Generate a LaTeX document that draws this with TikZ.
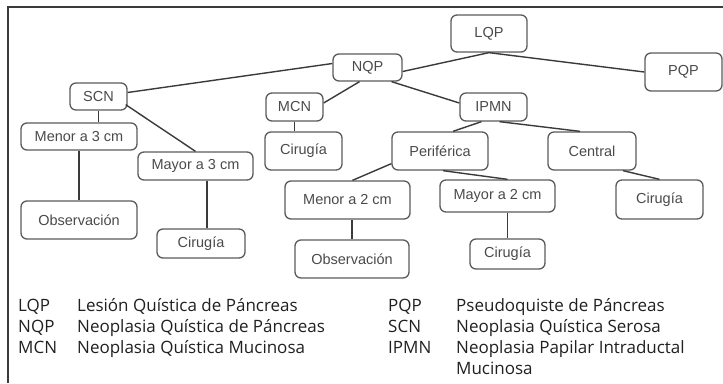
\documentclass[tikz,border=0pt]{standalone}
\usepackage{fontspec}
\setmainfont{Open Sans}
\newfontfamily\nodefont{Liberation Sans}
\usetikzlibrary{calc}
\definecolor{edgec}{HTML}{3A3A3A}
\definecolor{boxc}{HTML}{5A5A5A}
\definecolor{txtc}{HTML}{4A4A4A}
\definecolor{legc}{HTML}{202020}
\tikzset{
  box/.style={draw=boxc, line width=1.3pt, rounded corners=6pt, inner sep=0pt,
    text=txtc, font=\nodefont\fontsize{14.5}{16}\selectfont},
  link/.style={draw=edgec, line width=1.4pt},
  legabbr/.style={anchor=base west, inner sep=0pt, text=legc, font=\fontsize{17}{21}\selectfont},
  legdesc/.style={anchor=base west, inner sep=0pt, text=legc, font=\fontsize{17}{21}\selectfont}
}
\begin{document}
\begin{tikzpicture}[x=1pt,y=-1pt]
\useasboundingbox (0,0) rectangle (723,383);
\draw[draw=edgec, line width=1.2pt] (8,383) -- (8,7) -- (723,7);
% nodes
\node[box, minimum width=76pt, minimum height=37pt] (LQP) at (489,33.5) {LQP};
\node[box, minimum width=69pt, minimum height=27pt] (NQP) at (367.5,67.5) {NQP};
\node[box, minimum width=77pt, minimum height=38pt] (PQP) at (683.5,72) {PQP};
\node[box, minimum width=57pt, minimum height=27pt] (SCN) at (98.5,96.5) {SCN};
\node[box, minimum width=57pt, minimum height=28pt] (MCN) at (294.5,107) {MCN};
\node[box, minimum width=67pt, minimum height=28pt] (IPMN) at (493.5,107) {IPMN};
\node[box, minimum width=116pt, minimum height=27pt] (Men3) at (79,136.5) {Menor a 3 cm};
\node[box, minimum width=77pt, minimum height=38pt] (CirA) at (303.5,151) {Cirugía};
\node[box, minimum width=96pt, minimum height=38pt] (Perif) at (440,151) {Periférica};
\node[box, minimum width=88pt, minimum height=38pt] (Central) at (592,151) {Central};
\node[box, minimum width=115pt, minimum height=28pt] (May3) at (195.5,166) {Mayor a 3 cm};
\node[box, minimum width=125pt, minimum height=38pt] (Men2) at (347.5,200) {Menor a 2 cm};
\node[box, minimum width=115pt, minimum height=32pt] (May2) at (497.5,196) {Mayor a 2 cm};
\node[box, minimum width=87pt, minimum height=39pt] (CirC) at (659.5,199.5) {Cirugía};
\node[box, minimum width=116pt, minimum height=38pt] (ObsL) at (79,220) {Observación};
\node[box, minimum width=88pt, minimum height=29pt] (CirB) at (201,243.5) {Cirugía};
\node[box, minimum width=114pt, minimum height=38pt] (ObsR) at (352,259) {Observación};
\node[box, minimum width=75pt, minimum height=30pt] (CirD) at (507.5,254) {Cirugía};
% connectors
\draw[link] (LQP.south) -- ($(NQP.east)+(0,4)$);
\draw[link] (LQP.south) -- (PQP.west);
\draw[link] ($(NQP.west)+(0,-4)$) -- ($(SCN.east)+(0,-4)$);
\draw[link] ($(NQP.south)+(-8,0)$) -- ($(MCN.east)+(0,-4)$);
\draw[link] ($(NQP.south)+(24,0)$) -- ($(IPMN.west)+(0,-4)$);
\draw[link] (SCN.south) -- (SCN.south |- Men3.north);
\draw[link] ($(SCN.south east)+(-2,-6)$) -- (May3.north);
\draw[link] (MCN.south) -- (MCN.south |- CirA.north);
\draw[link] (Men3.south) -- (ObsL.north);
\draw[link] ($(May3.south)+(11.5,0)$) -- ($(CirB.north)+(6,0)$);
\draw[link] ($(IPMN.south)+(-12,0)$) -- ($(Perif.north)+(13,0)$);
\draw[link] ($(IPMN.south)+(6,0)$) -- ($(Central.north)+(-12,0)$);
\draw[link] ($(Perif.south west)+(0,-7)$) -- ($(Men2.north)+(5,0)$);
\draw[link] ($(Perif.south)+(3,0)$) -- ($(May2.north)+(10,0)$);
\draw[link] ($(Central.south)+(31,0)$) -- (CirC.north);
\draw[link] (ObsR.north |- Men2.south) -- (ObsR.north);
\draw[link] (CirD.north |- May2.south) -- (CirD.north);
% legend
\node[legabbr] (kLQP) at (18,311.5) {LQP};
\node[legdesc] (dLQP) at (77,311.5) {Lesión Quística de Páncreas};
\node[legabbr] (kNQP) at (18,332.5) {NQP};
\node[legdesc] (dNQP) at (77,332.5) {Neoplasia Quística de Páncreas};
\node[legabbr] (kMCN) at (18,353.5) {MCN};
\node[legdesc] (dMCN) at (77,353.5) {Neoplasia Quística Mucinosa};
\node[legabbr] (kPQP) at (388,311.5) {PQP};
\node[legdesc] (dPQP) at (456,311.5) {Pseudoquiste de Páncreas};
\node[legabbr] (kSCN) at (388,332.5) {SCN};
\node[legdesc] (dSCN) at (456,332.5) {Neoplasia Quística Serosa};
\node[legabbr] (kIPMN) at (388,353.5) {IPMN};
\node[legdesc] (dIPMN) at (456,353.5) {Neoplasia Papilar Intraductal};
\node[legdesc] (dIPMN2) at (456,374) {Mucinosa};
\end{tikzpicture}
\end{document}
